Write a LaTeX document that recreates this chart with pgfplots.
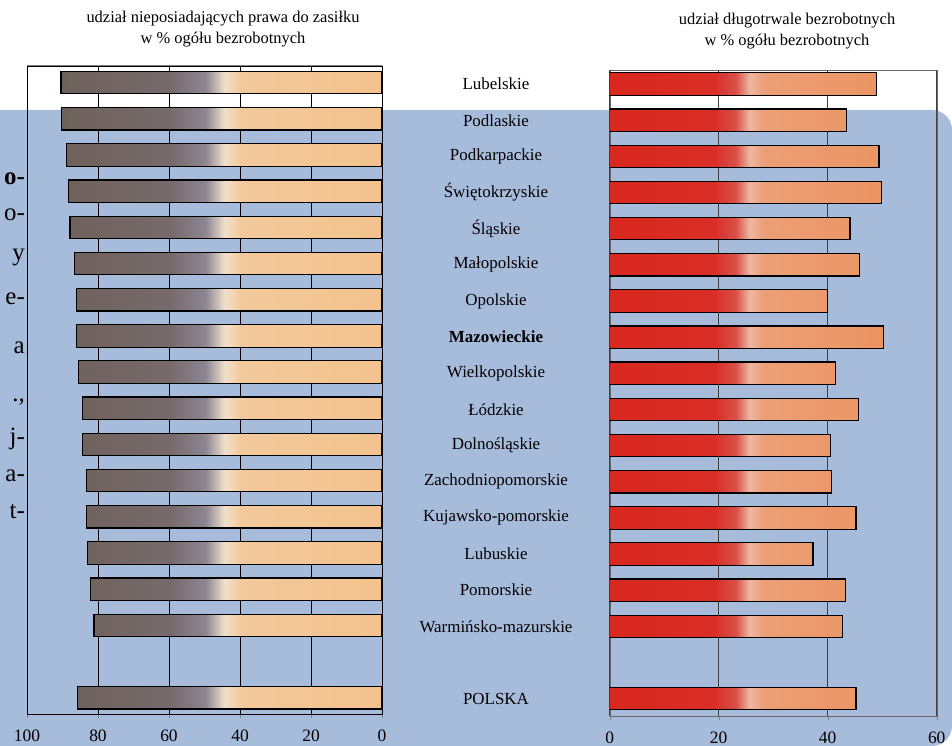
\documentclass[border=0pt]{standalone}
\usepackage{pgfplots}
\pgfplotsset{compat=1.18}
\usepackage{pgfplotstable}
\usepackage{fontspec}
\setmainfont{Liberation Serif}

\definecolor{bgblue}{HTML}{A7BBDB}
\definecolor{lbA}{HTML}{6E615B}
\definecolor{lbB}{HTML}{766A6C}
\definecolor{lbC}{HTML}{8C8693}
\definecolor{lbD}{HTML}{F0E0CC}
\definecolor{lbE}{HTML}{F2C99C}
\definecolor{lbF}{HTML}{F3C28D}
\definecolor{rbA}{HTML}{D9281F}
\definecolor{rbB}{HTML}{D92E27}
\definecolor{rbC}{HTML}{D9504A}
\definecolor{rbD}{HTML}{EDB7A2}
\definecolor{rbE}{HTML}{EC9F76}
\definecolor{rbF}{HTML}{EB9462}

% shading box 25bp..75bp is stretched over each bar
\pgfdeclarehorizontalshading{leftbar}{100bp}{color(0bp)=(lbA); color(25bp)=(lbA);
  color(42bp)=(lbB); color(47.5bp)=(lbC); color(50.5bp)=(lbD); color(53bp)=(lbE);
  color(75bp)=(lbF); color(100bp)=(lbF)}
\pgfdeclarehorizontalshading{rightbar}{100bp}{color(0bp)=(rbA); color(25bp)=(rbA);
  color(44bp)=(rbB); color(48bp)=(rbC); color(50.5bp)=(rbD); color(53bp)=(rbE);
  color(75bp)=(rbF); color(100bp)=(rbF)}

% udział nieposiadających prawa do zasiłku
\pgfplotstableread{
idx val
0 90.4
1 90.2
2 88.8
3 88.3
4 87.9
5 86.6
6 86.1
7 86.1
8 85.6
9 84.3
10 84.3
11 83.3
12 83.3
13 83.0
14 82.1
15 81.1
17 85.7
}\bezzasilku

% udział długotrwale bezrobotnych
\pgfplotstableread{
idx val
0 48.9
1 43.4
2 49.4
3 49.8
4 44.1
5 45.9
6 40.0
7 50.3
8 41.5
9 45.7
10 40.5
11 40.7
12 45.2
13 37.3
14 43.2
15 42.7
17 45.2
}\dlugotrwale

\pgfplotsset{
  wojstyle/.style={
    scale only axis,
    xbar, bar width=0.62,
    y dir=reverse,
    xmajorgrids,
    xtick pos=bottom,
    tick align=outside,
    major tick length=4bp,
    /pgf/number format/assume math mode=true,
    tick label style={font=\fontsize{17.5}{17.5}\selectfont},
    xticklabel style={yshift=-8bp},
    ytick style={draw=none},
  },
}

\begin{document}
\begin{tikzpicture}[x=1bp,y=1bp]
\path[use as bounding box] (0,0) rectangle (952,746);
\fill[bgblue, rounded corners=20bp] (-40,0) rectangle (952,636);

% fragments of the neighbouring text column
\begin{scope}[every node/.style={anchor=base east, inner sep=0pt, font=\fontsize{25}{25}\selectfont}]
\node at (25,561) {\textbf{o-}};
\node at (25,525) {o-};
\node at (25,485) {y};
\node at (25,441) {e-};
\node at (25,392) {a};
\node at (25,344) {.,};
\node at (25,301) {j-};
\node at (25,264) {a-};
\node at (25,227) {t-};
\end{scope}

\node[align=center, font=\fontsize{16.5}{20.5}\selectfont] at (223,717)
  {udział nieposiadających prawa do zasiłku\\w \% ogółu bezrobotnych};
\node[align=center, font=\fontsize{16.5}{20.5}\selectfont] at (787,715)
  {udział długotrwale bezrobotnych\\w \% ogółu bezrobotnych};

\begin{axis}[wojstyle,
  at={(27bp,32bp)}, anchor=south west,
  width=355bp, height=648bp,
  x dir=reverse, xmin=0, xmax=100, xtick={0,20,...,100},
  ymin=-0.46, ymax=17.45, ytick=\empty,
  axis line style={black},
  grid style={black, line width=0.7bp},
]
\addplot[draw=black, line width=1.2bp, shade, shading=leftbar] table[x=val, y=idx] {\bezzasilku};
\draw[gray, line width=1bp] (axis description cs:0,1) -- (axis description cs:1,1);
\end{axis}

\begin{axis}[wojstyle,
  at={(609.7bp,30bp)}, anchor=south west,
  width=327bp, height=646bp,
  xmin=0, xmax=60, xtick={0,20,40,60},
  ymin=-0.39, ymax=17.48,
  ytick={0,...,15,17},
  yticklabels={Lubelskie, Podlaskie, Podkarpackie, Świętokrzyskie, Śląskie,
    Małopolskie, Opolskie, \textbf{Mazowieckie}, Wielkopolskie, Łódzkie,
    Dolnośląskie, Zachodniopomorskie, Kujawsko-pomorskie, Lubuskie, Pomorskie,
    Warmińsko-mazurskie, POLSKA},
  yticklabel style={anchor=center, xshift=-109.7bp, font=\fontsize{17}{17}\selectfont},
  axis line style={black!60},
  grid style={black!75, line width=0.8bp},
]
\addplot[draw=black, line width=1.2bp, shade, shading=rightbar] table[x=val, y=idx] {\dlugotrwale};
\end{axis}
\end{tikzpicture}
\end{document}
